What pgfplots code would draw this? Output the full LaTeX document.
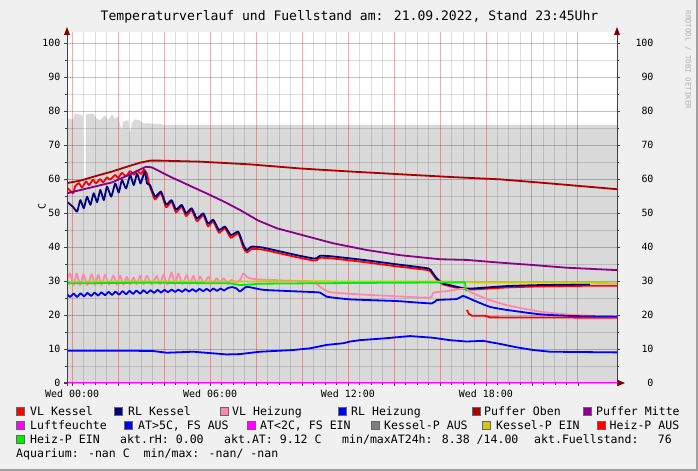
\documentclass[border=0pt]{standalone}
\usepackage{fontspec}
\setmainfont{DejaVu Sans Mono}
\usepackage{pgfplots}
\pgfplotsset{compat=1.18}

\definecolor{bg}{HTML}{F0F0F0}
\definecolor{framedark}{HTML}{A0A0A0}
\definecolor{axcol}{HTML}{404040}
\definecolor{arrowc}{HTML}{7F0000}
\definecolor{gridred}{HTML}{CC0000}
\definecolor{vlk}{HTML}{FF0000}
\definecolor{rlk}{HTML}{000080}
\definecolor{vlh}{HTML}{FF88AA}
\definecolor{rlh}{HTML}{0000FF}
\definecolor{pob}{HTML}{AA0000}
\definecolor{pmi}{HTML}{880088}
\definecolor{luf}{HTML}{FF00FF}
\definecolor{atf}{HTML}{0000FF}
\definecolor{atz}{HTML}{FF00FF}
\definecolor{kpa}{HTML}{808080}
\definecolor{kpe}{HTML}{CCCC00}
\definecolor{hpa}{HTML}{FF0000}
\definecolor{hpe}{HTML}{00EE00}

\newcommand{\legsq}[3]{\filldraw[fill=#1, draw=black!60, line width=0.6bp] (#2,#3-4) rectangle (#2+8,#3+4);}

\begin{document}
\begin{tikzpicture}[x=1bp,y=1bp]
\fill[framedark] (0,0) rectangle (698,471);
\fill[bg] (0,2) rectangle (696,471);
\fill[white] (67,88) rectangle (617,439);
\draw[axcol, line width=1bp] (64,88) -- (619,88);

\begin{axis}[
    at={(67bp,88bp)}, anchor=south west,
    scale only axis, width=550bp, height=351bp,
    xmin=-0.22, xmax=23.70, ymin=0, ymax=103.24,
    axis x line*=bottom, axis y line*=left,
    axis line style={draw=none},
    xtick={0,2,...,22},
    xticklabels={Wed 00:00,,,Wed 06:00,,,Wed 12:00,,,Wed 18:00,,},
    minor x tick num=3,
    ytick={0,10,...,100},
    minor y tick num=1,
    grid=both,
    major grid style={gridred, opacity=0.3, line width=0.9bp},
    minor grid style={black, opacity=0.13, line width=0.9bp},
    tick align=outside,
    major tick length=3bp, minor tick length=2bp,
    tick style={axcol, line width=0.8bp},
    ticklabel style={font=\fontsize{10}{12}\selectfont, text=black},
    /pgf/number format/assume math mode=true,
    every axis plot/.append style={line width=1.8bp, line join=round},
  ]
  % Fuellstand (translucent, so the grid shows through)
  \addplot[fill=black, fill opacity=0.15, draw=none] coordinates {
    (-0.22,77.9)(0.04,77.4)(0.13,79.3)(0.42,78.8)(0.47,78.5)(0.49,60)(0.59,60)(0.61,79)
    (0.91,79.3)(1.07,77.9)(1.22,77.2)(1.43,78.8)(1.57,77.3)(1.73,79)(1.87,77.8)(2.01,78.3)
    (2.09,75.9)(2.16,74.4)(2.23,77)(2.45,77.3)(2.52,73.4)(2.60,76.5)(2.74,77.6)(2.96,77.2)
    (3.10,76.4)(3.83,76.2)(3.97,75.9)(23.70,75.9)
  } \closedcycle;
  % VL Kessel
  \addplot[vlk, smooth, tension=0.3] coordinates {
    (-0.22,57.5)(0.04,55.8)(0.13,57.8)(0.30,58.8)(0.43,57.5)(0.61,59.3)(0.74,58.2)(0.91,59.8)
    (1.04,58.7)(1.22,60.0)(1.35,59.0)(1.52,60.5)(1.65,59.8)(1.88,61.2)(2.00,60.3)(2.17,61.8)
    (2.35,60.8)(2.52,62.3)(2.70,61.3)(2.83,62.5)(3.00,61.5)(3.13,62.8)(3.26,61.5)(3.35,58.5)
    (3.48,56.0)(3.61,54.0)(3.87,55.8)(4.09,51.7)(4.33,53.3)(4.52,50.2)(4.77,51.9)(4.96,49.1)
    (5.20,50.9)(5.43,47.6)(5.71,49.4)(5.91,46.1)(6.14,47.5)(6.39,44.2)(6.65,45.5)(6.91,42.7)
    (7.23,44.0)(7.45,39.8)(7.60,38.4)(7.81,39.4)(8.32,39.2)(9.77,37.0)(10.52,36.0)(10.64,36.1)
    (10.78,36.8)(11.22,36.7)(12.67,35.6)(14.12,34.3)(15.49,33.2)(15.64,32.3)(15.86,30.4)
    (16.14,29.0)(16.73,28.0)(17.09,27.6)(17.43,27.5)(18.90,28.1)(20.35,28.4)(22.52,28.6)(23.70,28.6)
  };
  % RL Kessel
  \addplot[rlk, smooth, tension=0.3] coordinates {
    (-0.22,53.3)(0.04,51.8)(0.22,50.4)(0.36,53.8)(0.51,51.4)(0.65,54.8)(0.80,52.4)(0.94,55.8)
    (1.09,53.2)(1.23,56.8)(1.38,53.8)(1.52,57.8)(1.70,54.8)(1.88,58.7)(2.03,56.0)(2.17,59.7)
    (2.35,57.2)(2.53,61.2)(2.68,58.2)(2.83,61.6)(2.98,58.7)(3.16,62.2)(3.26,58.7)(3.39,58.2)
    (3.61,54.8)(3.87,56.3)(4.09,52.5)(4.33,53.8)(4.52,51.0)(4.77,52.4)(4.96,49.9)(5.20,51.4)
    (5.43,48.4)(5.71,49.9)(5.91,46.9)(6.14,48.0)(6.39,45.0)(6.65,46.0)(6.91,43.5)(7.23,44.5)
    (7.45,40.6)(7.60,39.1)(7.81,40.1)(8.32,39.8)(9.77,37.6)(10.52,36.6)(10.64,36.7)(10.78,37.4)
    (11.22,37.3)(12.67,36.2)(14.12,34.9)(15.49,33.7)(15.64,32.8)(15.86,30.8)(16.14,29.3)
    (16.73,28.3)(17.09,27.8)(17.43,27.8)(18.90,28.5)(20.35,28.8)(22.52,29.0)
  };
  % VL Heizung
  \addplot[vlh, smooth, tension=0.3] coordinates {
    (-0.22,30.5)(-0.09,32.2)(0.06,28.8)(0.20,32.2)(0.35,28.8)(0.49,32.0)(0.67,28.8)(0.86,32.0)
    (1.00,28.8)(1.14,31.8)(1.29,28.8)(1.43,31.8)(1.61,28.9)(1.80,31.6)(1.94,28.9)(2.09,31.6)
    (2.23,28.9)(2.38,31.2)(2.52,29.0)(2.67,31.0)(2.81,29.0)(2.96,31.5)(3.10,29.0)(3.25,31.5)
    (3.47,29.0)(3.68,31.5)(3.83,29.0)(3.97,31.8)(4.15,29.0)(4.33,32.5)(4.48,29.0)(4.62,32.2)
    (4.80,29.1)(4.99,31.8)(5.13,29.1)(5.27,31.5)(5.42,29.2)(5.57,31.3)(5.74,29.3)(5.93,31.2)
    (6.11,29.3)(6.29,30.8)(6.43,29.4)(6.58,30.8)(6.76,29.5)(6.94,30.3)(7.13,29.6)(7.30,30.2)
    (7.45,32.2)(7.65,31.0)(8.03,30.5)(9.04,30.2)(10.48,29.8)(10.78,28.3)(11.22,26.7)
    (12.67,26.0)(14.12,25.5)(15.57,25.1)(15.71,26.6)(16.29,27.0)(16.73,27.5)(17.09,27.7)
    (17.43,26.4)(18.17,24.4)(18.90,22.9)(20.35,21.0)(21.78,20.0)(23.70,19.5)
  };
  % RL Heizung
  \addplot[rlh, smooth, tension=0.3] coordinates {
    (-0.22,26.2)(-0.09,25.3)(0.07,26.3)(0.22,25.3)(0.37,26.4)(0.52,25.5)(0.67,26.5)(0.83,25.6)
    (0.98,26.6)(1.13,25.7)(1.28,26.7)(1.43,25.8)(1.59,26.8)(1.74,25.9)(1.89,26.9)(2.04,26.0)
    (2.20,27.0)(2.35,26.1)(2.50,27.1)(2.65,26.2)(2.80,27.2)(2.96,26.3)(3.11,27.3)(3.26,26.4)
    (3.41,27.3)(3.57,26.5)(3.72,27.4)(3.87,26.6)(4.02,27.4)(4.17,26.7)(4.33,27.5)(4.48,26.8)
    (4.63,27.5)(4.78,26.8)(4.93,27.6)(5.09,26.9)(5.24,27.6)(5.39,26.9)(5.54,27.7)(5.70,27.0)
    (5.85,27.7)(6.00,27.0)(6.15,27.8)(6.30,27.1)(6.46,27.8)(6.61,27.2)(6.76,27.9)(6.96,28.2)
    (7.16,27.8)(7.30,26.9)(7.60,28.3)(8.32,27.4)(9.91,26.9)(10.78,26.6)(11.07,25.4)(12.09,24.6)
    (14.12,24.1)(15.64,23.4)(15.86,24.4)(16.73,24.7)(17.01,25.6)(17.43,24.4)(18.17,22.4)
    (18.90,21.5)(20.35,20.2)(21.78,19.7)(23.70,19.5)
  };
  % Puffer Oben
  \addplot[pob] coordinates {
    (-0.22,58.8)(0.35,59.5)(1.00,60.8)(1.74,62.2)(2.43,63.7)(2.96,64.8)(3.39,65.4)(3.83,65.4)
    (5.57,65.1)(7.74,64.3)(9.91,63.1)(12.09,62.2)(14.26,61.4)(16.43,60.6)(18.61,59.9)
    (20.78,58.7)(23.70,57.0)
  };
  % Puffer Mitte
  \addplot[pmi] coordinates {
    (-0.22,55.8)(1.00,57.8)(1.74,59.0)(2.47,61.2)(2.96,62.8)(3.22,63.6)(3.48,63.4)(4.26,60.7)
    (5.13,58.0)(6.00,55.3)(6.65,53.2)(7.30,50.9)(8.09,47.8)(8.91,45.5)(9.91,43.7)(11.35,41.1)
    (12.83,39.1)(14.26,37.6)(16.00,36.4)(17.17,36.2)(18.61,35.4)(20.04,34.7)(21.52,33.9)(23.70,33.2)
  };
  % Luftfeuchte
  \addplot[luf] coordinates {(-0.22,0)(23.70,0)};
  % AT>5C
  \addplot[atf] coordinates {
    (-0.22,9.5)(2.38,9.5)(3.53,9.4)(4.12,8.9)(5.27,9.2)(6.73,8.4)(7.30,8.5)(8.17,9.2)(9.62,9.7)
    (10.35,10.2)(11.07,11.2)(11.80,11.7)(12.09,12.2)(12.52,12.6)(13.53,13.1)(14.70,13.8)
    (15.71,13.3)(16.43,12.6)(17.16,12.2)(17.88,12.4)(18.61,11.5)(19.33,10.5)(20.06,9.7)
    (20.78,9.2)(23.70,9.0)
  };
  % Kessel-P EIN
  \addplot[kpe] coordinates {
    (-0.22,29.8)(9.91,29.9)(17.13,29.8)(17.43,29.6)(20.35,29.6)(22.52,29.5)(23.70,29.3)
  };
  % Heiz-P AUS
  \addplot[hpa] coordinates {
    (17.17,21.5)(17.26,20.3)(17.39,19.8)(17.96,19.8)(18.17,19.3)(23.70,19.2)
  };
  % Heiz-P EIN
  \addplot[hpe] coordinates {
    (-0.22,29.3)(3.39,29.5)(6.87,29.3)(7.30,28.8)(7.57,28.9)(8.17,29.2)(9.91,29.3)(12.09,29.4)
    (14.26,29.5)(17.09,29.6)(17.13,27.0)
  };
\end{axis}

\begin{axis}[
    at={(67bp,88bp)}, anchor=south west,
    scale only axis, width=550bp, height=351bp,
    xmin=-0.22, xmax=23.70, ymin=0, ymax=103.24,
    hide x axis, axis y line*=right,
    axis line style={draw=none},
    ytick={0,10,...,100}, minor y tick num=1,
    tick align=outside,
    major tick length=3bp, minor tick length=2bp,
    tick style={axcol, line width=0.8bp},
    yticklabel style={font=\fontsize{10}{12}\selectfont, anchor=east, xshift=37bp},
    /pgf/number format/assume math mode=true,
  ]
  \addplot[draw=none] coordinates {(0,0)(1,1)};
\end{axis}

\draw[axcol, line width=1bp] (67,85) -- (67,438);
\draw[axcol, line width=1bp] (617,85) -- (617,438);
\fill[arrowc] (64,436) -- (70,436) -- (67,444) -- cycle;
\fill[arrowc] (614,436) -- (620,436) -- (617,444) -- cycle;
\fill[arrowc] (618,85) -- (618,91) -- (625,88) -- cycle;

\node[anchor=base, inner sep=0, font=\fontsize{13.1}{15}\selectfont] at (349.5,450.3)
  {Temperaturverlauf und Fuellstand am: 21.09.2022, Stand 23:45Uhr};
\node[rotate=90, inner sep=0, font=\fontsize{10}{12}\selectfont] at (42,264) {C};
\node[rotate=-90, inner sep=0, text=black!30, font=\fontsize{7.5}{9}\selectfont] at (688,411)
  {RRDTOOL / TOBI OETIKER};

\begin{scope}[every node/.style={anchor=base west, inner sep=0, font=\fontsize{11.6}{14}\selectfont}]
  % row 1
  \legsq{vlk}{16}{59.7} \node at (30,55.5) {VL Kessel};
  \legsq{rlk}{114.5}{59.7} \node at (128,55.5) {RL Kessel};
  \legsq{vlh}{220}{59.7} \node at (232,55.5) {VL Heizung};
  \legsq{rlh}{338}{59.7} \node at (351,55.5) {RL Heizung};
  \legsq{pob}{472}{59.7} \node at (484,55.5) {Puffer Oben};
  \legsq{pmi}{583}{59.7} \node at (596,55.5) {Puffer Mitte};
  % row 2
  \legsq{luf}{16}{45.7} \node at (30,41.5) {Luftfeuchte};
  \legsq{atf}{124.5}{45.7} \node at (138,41.5) {AT>5C, FS AUS};
  \legsq{atz}{247}{45.7} \node at (260,41.5) {AT<2C, FS EIN};
  \legsq{kpa}{371}{45.7} \node at (384,41.5) {Kessel-P AUS};
  \legsq{kpe}{482.5}{45.7} \node at (496,41.5) {Kessel-P EIN};
  \legsq{hpa}{597}{45.7} \node at (609.5,41.5) {Heiz-P AUS};
  % row 3
  \legsq{hpe}{16}{31.7} \node at (30,27.5) {Heiz-P EIN};
  \node at (120,27.5) {akt.rH: 0.00};
  \node at (224,27.5) {akt.AT: 9.12 C};
  \node at (342,27.5) {min/maxAT24h: 8.38 /14.00};
  \node at (534,27.5) {akt.Fuellstand:};
  \node[anchor=base east] at (672,27.5) {76};
  % row 4
  \node at (16,13.5) {Aquarium: -nan C\ \ min/max: -nan/ -nan};
\end{scope}
\pgfresetboundingbox
\path (0,0) rectangle (698,471);
\end{tikzpicture}
\end{document}
